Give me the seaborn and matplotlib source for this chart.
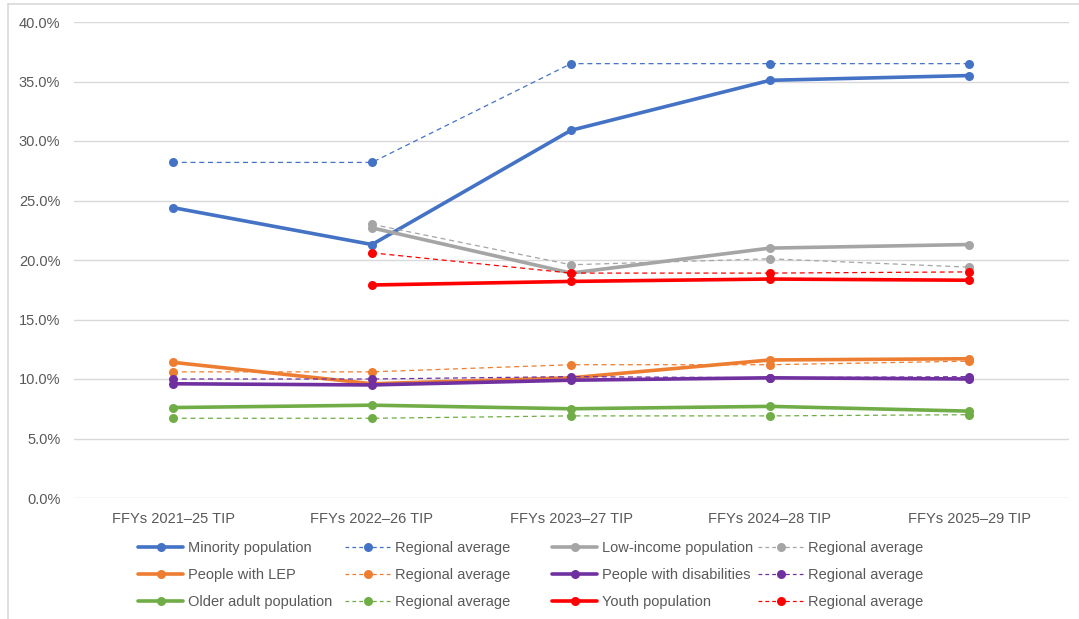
import numpy as np
import pandas as pd
import matplotlib
matplotlib.use("Agg")
import matplotlib.pyplot as plt
from matplotlib.lines import Line2D
from matplotlib.ticker import FuncFormatter
import seaborn as sns

# Program periods
periods = ["FFYs 2021\u201325 TIP", "FFYs 2022\u201326 TIP", "FFYs 2023\u201327 TIP",
           "FFYs 2024\u201328 TIP", "FFYs 2025\u201329 TIP"]

# Share of population (%) served, by group, with regional averages
minority = [24.4, 21.3, 30.9, 35.1, 35.5]
minority_avg = [28.2, 28.2, 36.5, 36.5, 36.5]
low_income = [np.nan, 22.7, 18.9, 21.0, 21.3]
low_income_avg = [np.nan, 23.0, 19.6, 20.1, 19.4]
lep = [11.4, 9.6, 10.1, 11.6, 11.7]
lep_avg = [10.6, 10.6, 11.2, 11.2, 11.5]
disabilities = [9.6, 9.5, 9.9, 10.1, 10.0]
disabilities_avg = [10.0, 10.0, 10.2, 10.1, 10.2]
older = [7.6, 7.8, 7.5, 7.7, 7.3]
older_avg = [6.7, 6.7, 6.9, 6.9, 7.0]
youth = [np.nan, 17.9, 18.2, 18.4, 18.3]
youth_avg = [np.nan, 20.6, 18.9, 18.9, 19.0]

group_names = ["Minority population", "Low-income population", "People with LEP",
               "People with disabilities", "Older adult population", "Youth population"]
group_values = [minority, low_income, lep, disabilities, older, youth]
avg_values = [minority_avg, low_income_avg, lep_avg, disabilities_avg, older_avg, youth_avg]
colors = ["#4472C4", "#A5A5A5", "#ED7D31", "#7030A0", "#70AD47", "#FF0000"]

W, H = 1079, 619
fig = plt.figure(figsize=(W / 100, H / 100), dpi=100)
sns.set_style("white")
plt.rcParams["font.family"] = ["Liberation Sans", "DejaVu Sans"]

ax = fig.add_axes([73.5 / W, 1 - 498 / H, (1068.5 - 73.5) / W, (498 - 22) / H])

text_color = "#595959"
grid_color = "#D9D9D9"
pos = np.arange(len(periods))

handles_group = []
handles_avg = []
for name, vals, avgs, c in zip(group_names, group_values, avg_values, colors):
    df_g = pd.DataFrame({"x": pos, "y": vals}).dropna()
    df_a = pd.DataFrame({"x": pos, "y": avgs}).dropna()
    sns.lineplot(data=df_g, x="x", y="y", ax=ax, color=c, lw=2.6, marker="o",
                 markersize=6.5, markeredgewidth=0, zorder=3)
    sns.lineplot(data=df_a, x="x", y="y", ax=ax, color=c, lw=0.9, marker="o",
                 markersize=6.5, markeredgewidth=0, zorder=3,
                 linestyle=(0, (4, 3)))
    handles_group.append(Line2D([], [], color=c, lw=2.6, marker="o", markersize=6.5,
                                markeredgewidth=0, label=name))
    handles_avg.append(Line2D([], [], color=c, lw=0.9, marker="o", markersize=6.5,
                              markeredgewidth=0, linestyle=(0, (3, 2.5)),
                              label="Regional average"))

ax.set_xlim(-0.5, len(periods) - 0.5)
ax.set_ylim(0, 40)
ax.set_yticks(np.arange(0, 40.1, 5))
ax.yaxis.set_major_formatter(FuncFormatter(lambda v, _: f"{v:.1f}%"))
ax.set_xticks(pos)
ax.set_xticklabels(periods)
ax.set_xlabel("")
ax.set_ylabel("")
ax.grid(axis="y", color=grid_color, lw=1)
ax.grid(axis="x", visible=False)
ax.set_axisbelow(True)
for s in ax.spines.values():
    s.set_visible(False)
ax.tick_params(axis="both", length=0, labelsize=10.5, colors=text_color)
ax.tick_params(axis="y", pad=9.5)
ax.tick_params(axis="x", pad=10)

# Legend: four columns, three rows
col_handles = [
    [handles_group[0], handles_group[2], handles_group[4]],
    [handles_avg[0], handles_avg[2], handles_avg[4]],
    [handles_group[1], handles_group[3], handles_group[5]],
    [handles_avg[1], handles_avg[3], handles_avg[5]],
]
col_x = [138, 345, 552, 758]
for hs, x0 in zip(col_handles, col_x):
    leg = fig.legend(handles=hs, loc="upper left",
                     bbox_to_anchor=(x0 / W, 1 - 541 / H), frameon=False,
                     fontsize=10.5, handlelength=3.1, handletextpad=0.3,
                     labelspacing=0.9, borderaxespad=0, borderpad=0)
    for t in leg.get_texts():
        t.set_color(text_color)

# Outer frame
fig.add_artist(Line2D([8 / W, 8 / W], [0, 1 - 4 / H], color=grid_color, lw=1.2,
                      transform=fig.transFigure))
fig.add_artist(Line2D([8 / W, 1], [1 - 4 / H, 1 - 4 / H], color=grid_color, lw=1.2,
                      transform=fig.transFigure))

fig.savefig("out.png", dpi=100, facecolor="white")
